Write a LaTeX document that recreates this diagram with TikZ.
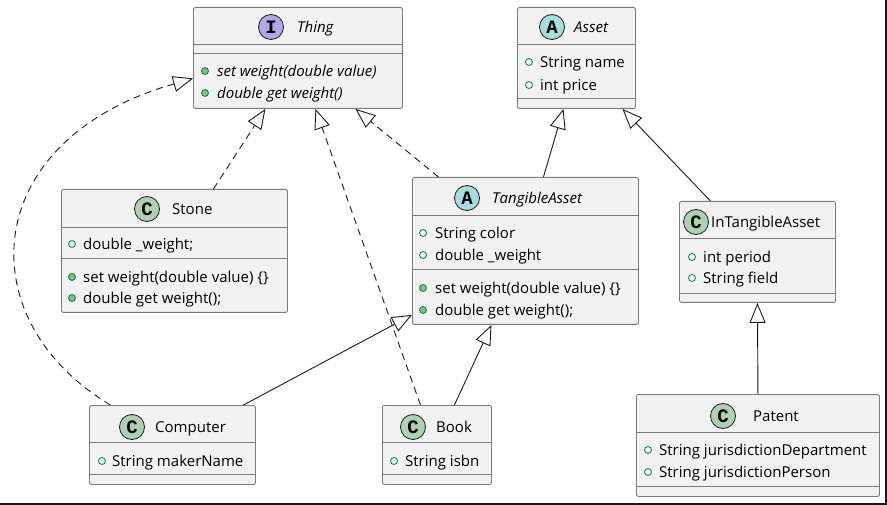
\documentclass[tikz,border=0pt]{standalone}
\usepackage{fontspec}
\setmainfont{Open Sans}
\newfontfamily\badgefont{Liberation Mono}
\usepackage{tikz}
\usetikzlibrary{positioning,arrows.meta}
\definecolor{boxfill}{HTML}{F1F1F1}
\definecolor{boxline}{HTML}{7A7A7A}
\definecolor{classbadge}{HTML}{ADD1B2}
\definecolor{abstractbadge}{HTML}{A9DCDF}
\definecolor{interfacebadge}{HTML}{B4A7E5}
\definecolor{iconline}{HTML}{038048}
\definecolor{iconfill}{HTML}{84BE84}
\definecolor{wire}{HTML}{181818}
\tikzstyle{classbox}=[rectangle, draw=boxline, fill=boxfill, rounded corners=2pt, line width=0.9pt, anchor=north west, inner sep=0pt]
\tikzstyle{divider}=[draw=boxline, line width=0.9pt]
\tikzstyle{badge}=[circle, draw=wire, line width=0.8pt, minimum size=25pt, inner sep=0pt, font=\badgefont\bfseries\fontsize{19}{19}\selectfont]
\tikzstyle{member}=[anchor=west, inner sep=0pt, text height=12.3pt, text depth=1.6pt, font=\fontsize{15}{17}\selectfont]
\tikzstyle{field}=[circle, draw=iconline, line width=0.8pt, minimum size=7pt, inner sep=0pt]
\tikzstyle{method}=[field, fill=iconfill]
\tikzstyle{realize}=[draw=wire, line width=0.9pt, dash pattern=on 7pt off 5pt, -{Triangle[open, length=20pt, width=16pt]}]
\tikzstyle{extend}=[draw=wire, line width=0.9pt, -{Triangle[open, length=20pt, width=16pt]}]
\begin{document}
\begin{tikzpicture}[x=1pt, y=-1pt]
    \useasboundingbox (0,0) rectangle (887,505);
    % Thing
    \node(thing)[classbox, minimum width=209pt, minimum height=101pt] at (193,7) {};
    \draw[divider] (193,44) -- (402,44) (193,53.5) -- (402,53.5);
    \node(thingbadge)[badge, fill=interfacebadge] at (271,27) {I};
    \node(thingname)[member] at (297,27) {\itshape Thing};
    \node(thingset)[method] at (205,71) {};
    \node[member] at (217,71) {\itshape set weight(double value)};
    \node(thingget)[method] at (205,93) {};
    \node[member] at (217,93) {\itshape double get weight()};
    % Asset
    \node(asset)[classbox, minimum width=118pt, minimum height=101pt] at (517,7) {};
    \draw[divider] (517,44) -- (635,44) (517,98) -- (635,98);
    \node(assetbadge)[badge, fill=abstractbadge] at (552,27) {A};
    \node(assetname)[member] at (574,27) {\itshape Asset};
    \node[field] at (529,62) {};
    \node[member] at (540,62) {String name};
    \node[field] at (529,85) {};
    \node[member] at (540,85) {int price};
    % Stone
    \node(stone)[classbox, minimum width=226pt, minimum height=123pt] at (61,189) {};
    \draw[divider] (61,227) -- (287,227) (61,258) -- (287,258);
    \node(stonebadge)[badge, fill=classbadge] at (147,209) {C};
    \node(stonename)[member] at (172,209) {Stone};
    \node[field] at (72,244) {};
    \node[member] at (83,244) {double \_weight;};
    \node[method] at (72,277) {};
    \node[member] at (83,277) {set weight(double value) \{\}};
    \node[method] at (72,298) {};
    \node[member] at (83,298) {double get weight();};
    % TangibleAsset
    \node(tangible)[classbox, minimum width=226pt, minimum height=147pt] at (412,177) {};
    \draw[divider] (412,215) -- (638,215) (412,269) -- (638,269);
    \node(tangiblebadge)[badge, fill=abstractbadge] at (467,198) {A};
    \node(tangiblename)[member] at (492,198) {\itshape TangibleAsset};
    \node[field] at (423,233) {};
    \node[member] at (435,233) {String color};
    \node[field] at (423,255) {};
    \node[member] at (435,255) {double \_weight};
    \node[method] at (423,288) {};
    \node[member] at (435,288) {set weight(double value) \{\}};
    \node[method] at (423,310) {};
    \node[member] at (435,310) {double get weight();};
    % InTangibleAsset
    \node(intangible)[classbox, minimum width=156pt, minimum height=101pt] at (679,201) {};
    \draw[divider] (679,238) -- (835,238) (679,293) -- (835,293);
    \node(intangiblebadge)[badge, fill=classbadge] at (696,222) {C};
    \node(intangiblename)[member] at (711,222) {InTangibleAsset};
    \node[field] at (692,257) {};
    \node[member] at (703,257) {int period};
    \node[field] at (692,278) {};
    \node[member] at (703,278) {String field};
    % Computer
    \node(computer)[classbox, minimum width=166pt, minimum height=79pt] at (89,405) {};
    \draw[divider] (89,442) -- (255,442) (89,474) -- (255,474);
    \node(computerbadge)[badge, fill=classbadge] at (132,427) {C};
    \node(computername)[member] at (155,427) {Computer};
    \node[field] at (102,461) {};
    \node[member] at (112,461) {String makerName};
    % Book
    \node(book)[classbox, minimum width=109pt, minimum height=79pt] at (382,405) {};
    \draw[divider] (382,442) -- (491,442) (382,474) -- (491,474);
    \node(bookbadge)[badge, fill=classbadge] at (413,427) {C};
    \node(bookname)[member] at (436,427) {Book};
    \node[field] at (394,461) {};
    \node[member] at (405,461) {String isbn};
    % Patent
    \node(patent)[classbox, minimum width=243pt, minimum height=102pt] at (636,394) {};
    \draw[divider] (636,432) -- (879,432) (636,486) -- (879,486);
    \node(patentbadge)[badge, fill=classbadge] at (723,416) {C};
    \node(patentname)[member] at (753,416) {Patent};
    \node[field] at (648,450) {};
    \node[member] at (659,450) {String jurisdictionDepartment};
    \node[field] at (648,472) {};
    \node[member] at (659,472) {String jurisdictionPerson};
    % relations
    \draw[realize] ([xshift=39pt]stone.north) -- ([xshift=-32.5pt]thing.south);
    \draw[realize] ([xshift=-16.5pt]book.north) -- ([xshift=17.5pt]thing.south);
    \draw[realize] ([xshift=-87pt]tangible.north) -- ([xshift=57.5pt]thing.south);
    \draw[realize] ([xshift=-62pt]computer.north) .. controls (-32,320) and (-22,140) .. ([yshift=-20.5pt]thing.west);
    \draw[extend] ([xshift=18pt]tangible.north) -- ([xshift=-13pt]asset.south);
    \draw[extend] ([xshift=-47pt]intangible.north) -- ([xshift=46pt]asset.south);
    \draw[extend] ([xshift=71pt]computer.north) -- ([yshift=10pt]tangible.south west);
    \draw[extend] ([xshift=17.5pt]book.north) -- ([xshift=-34pt]tangible.south);
    \draw[extend] (patent.north) -- (intangible.south);
    % window edge
    \draw[line width=2pt, black!90] (886,0) -- (886,504) -- (0,504);
\end{tikzpicture}
\end{document}
